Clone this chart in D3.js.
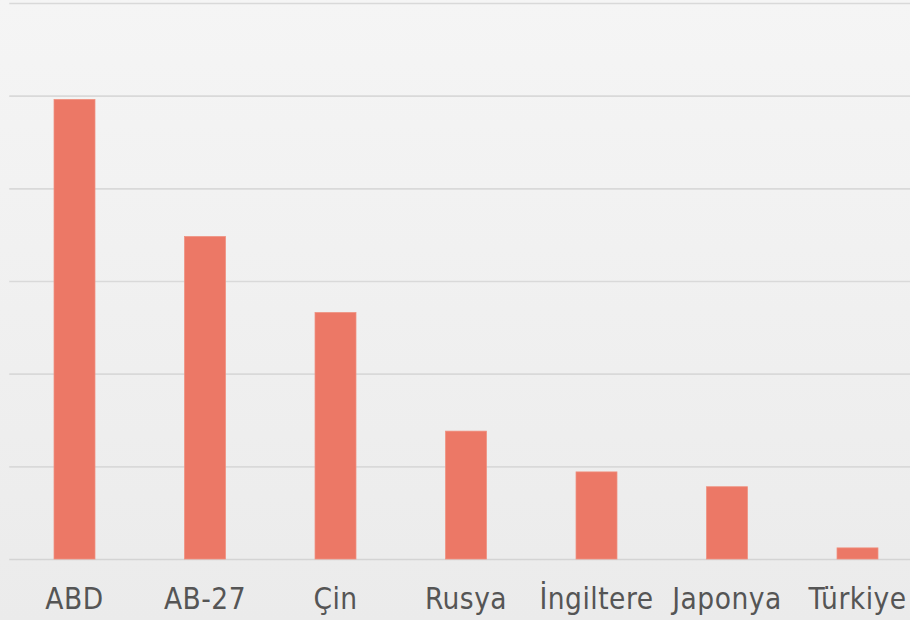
<!DOCTYPE html>
<html>
<head>
<meta charset="utf-8">
<script src="https://cdn.jsdelivr.net/npm/d3@7"></script>
<style>
  html, body { margin: 0; padding: 0; overflow: hidden; }
  body { width: 910px; height: 620px; }
  .tick-label { font-family: "DejaVu Sans Condensed", "DejaVu Sans", sans-serif; font-stretch: condensed; letter-spacing: 0.5px; }
</style>
</head>
<body>
<div id="chart"></div>
<script>
// chart values
const countries = ['ABD', 'AB-27', 'Çin', 'Rusya', 'İngiltere', 'Japonya', 'Türkiye'];
const values = [4.96, 3.48, 2.66, 1.38, 0.94, 0.78, 0.12];
const gridTicks = [0, 1, 2, 3, 4, 5, 6];

const width = 910;
const height = 620;

const svg = d3.select('#chart')
  .append('svg')
  .attr('width', width)
  .attr('height', height);

// soft grey background
const defs = svg.append('defs');
const grad = defs.append('linearGradient')
  .attr('id', 'bg')
  .attr('x1', 0).attr('y1', 0).attr('x2', 0).attr('y2', 1);
grad.append('stop').attr('offset', '0%').attr('stop-color', '#f5f5f5');
grad.append('stop').attr('offset', '100%').attr('stop-color', '#ebebeb');

svg.append('rect')
  .attr('width', width)
  .attr('height', height)
  .attr('fill', 'url(#bg)');

// plot area runs a bit past the right edge (the original is cropped)
const left = 9.25;
const step = 130.5;
const xScale = d3.scaleBand()
  .domain(countries)
  .range([left, left + step * countries.length])
  .paddingInner(0.686)
  .paddingOuter(0.343);

const yScale = d3.scaleLinear()
  .domain([0, 6])
  .range([559, 3]);

// gridlines
svg.append('g')
  .attr('class', 'gridlines')
  .attr('transform', `translate(${left}, 0)`)
  .call(d3.axisLeft(yScale).tickValues(gridTicks).tickFormat('').tickSize(-(width + 20)))
  .call(g => g.select('.domain').remove())
  .selectAll('line')
  .attr('stroke', (d) => d === 0 ? '#d4d4d4' : '#d9d9d9')
  .attr('stroke-width', 1.6);

// bars
svg.append('g')
  .attr('class', 'bars')
  .selectAll('rect')
  .data(countries)
  .join('rect')
  .attr('x', d => xScale(d))
  .attr('width', xScale.bandwidth())
  .attr('y', (d, i) => yScale(values[i]))
  .attr('height', (d, i) => yScale(0) - yScale(values[i]))
  .attr('fill', '#ec7866')
  .attr('stroke', '#f0907f')
  .attr('stroke-width', 0.75);

// category labels
const xAxis = svg.append('g')
  .attr('transform', `translate(0, ${yScale(0)})`)
  .call(d3.axisBottom(xScale).tickSize(0).tickPadding(0));
xAxis.select('.domain').remove();
xAxis.selectAll('text')
  .attr('class', 'tick-label')
  .attr('y', 50)
  .attr('dy', 0)
  .attr('fill', '#555555')
  .style('font-size', '29.5px');
</script>
</body>
</html>
